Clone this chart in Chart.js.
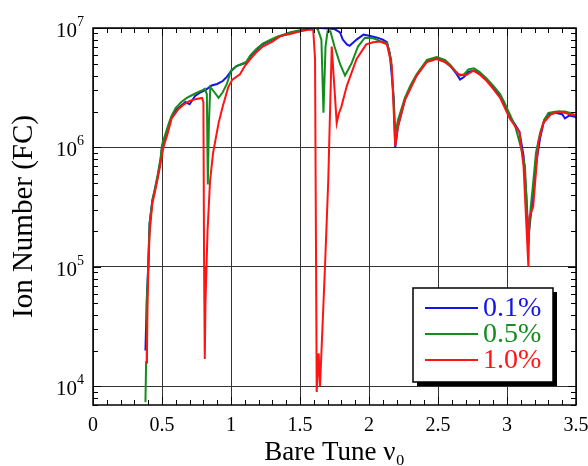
<!DOCTYPE html>
<html>
<head>
<meta charset="utf-8">
<script src="https://cdn.jsdelivr.net/npm/chart.js@4/dist/chart.umd.min.js"></script>
<style>
  html, body { margin: 0; padding: 0; background: #fff; }
</style>
</head>
<body>
<canvas id="ionChart" width="588" height="466"></canvas>
<script>
// bare tune / ion number
const tune01 = [0.38,0.39,0.40,0.41,0.43,0.45,0.47,0.49,0.50,0.53,0.55,0.57,0.60,0.64,0.67,0.70,0.74,0.78,0.82,0.86,
  0.90,0.94,0.97,1.00,1.04,1.08,1.11,1.14,1.18,1.23,1.28,1.33,1.38,1.43,1.50,1.55,1.60,1.65,1.70,1.75,
  1.79,1.81,1.84,1.86,1.91,1.96,2.00,2.06,2.10,2.13,2.15,2.165,2.18,2.19,2.21,2.26,2.30,2.345,2.42,2.49,
  2.55,2.59,2.63,2.66,2.69,2.72,2.76,2.80,2.85,2.90,2.95,2.98,3.02,3.06,3.09,3.12,3.14,3.155,3.18,3.20,
  3.215,3.24,3.27,3.30,3.35,3.40,3.42,3.45,3.50];
const ions01 = [2.0e4,5.4e4,1.0e5,2.3e5,3.6e5,4.5e5,5.8e5,7.9e5,1.0e6,1.3e6,1.55e6,1.8e6,2.05e6,2.25e6,2.4e6,2.3e6,2.7e6,2.9e6,3.05e6,3.3e6,
  3.4e6,3.6e6,3.9e6,4.35e6,4.8e6,5.0e6,5.1e6,5.8e6,6.5e6,7.3e6,7.8e6,8.3e6,8.7e6,9.1e6,9.4e6,9.8e6,1.0e7,1.0e7,9.9e6,9.8e6,
  9.2e6,8.0e6,7.3e6,7.1e6,8.0e6,8.8e6,8.6e6,8.3e6,8.0e6,7.6e6,6.2e6,4.0e6,2.5e6,1.0e6,1.5e6,2.5e6,3.2e6,4.0e6,5.3e6,5.6e6,
  5.2e6,4.8e6,4.2e6,3.7e6,3.9e6,4.3e6,4.4e6,4.2e6,3.7e6,3.2e6,2.7e6,2.3e6,1.8e6,1.55e6,1.35e6,8.5e5,4.0e5,1.8e5,3.2e5,5.4e5,
  7.9e5,1.2e6,1.7e6,1.9e6,1.95e6,1.9e6,1.75e6,1.85e6,1.8e6];

const tune05 = [0.38,0.385,0.39,0.40,0.41,0.43,0.45,0.47,0.49,0.50,0.53,0.55,0.57,0.60,0.64,0.68,0.72,0.76,0.79,0.81,
  0.825,0.832,0.84,0.85,0.88,0.91,0.94,0.97,1.00,1.04,1.08,1.11,1.14,1.18,1.23,1.28,1.33,1.38,1.43,1.50,
  1.56,1.60,1.63,1.655,1.67,1.685,1.70,1.72,1.75,1.79,1.826,1.85,1.875,1.92,1.97,2.03,2.08,2.13,2.16,2.175,
  2.19,2.21,2.26,2.30,2.345,2.42,2.49,2.55,2.59,2.63,2.66,2.69,2.72,2.76,2.80,2.85,2.90,2.95,2.98,3.02,
  3.06,3.105,3.13,3.155,3.17,3.19,3.21,3.24,3.27,3.30,3.36,3.42,3.46,3.50];
const ions05 = [7.4e3,1.6e4,5.0e4,1.0e5,2.3e5,3.6e5,4.6e5,6.0e5,8.2e5,1.05e6,1.35e6,1.6e6,1.85e6,2.15e6,2.4e6,2.6e6,2.75e6,2.9e6,3.0e6,3.1e6,
  2.8e6,4.9e5,1.6e6,3.2e6,2.9e6,2.6e6,2.9e6,3.4e6,4.4e6,4.8e6,5.0e6,5.2e6,5.9e6,6.6e6,7.4e6,7.9e6,8.4e6,8.8e6,9.2e6,9.6e6,
  1.03e7,1.04e7,9.7e6,8.0e6,1.95e6,7.0e6,9.4e6,9.4e6,7.0e6,5.0e6,4.0e6,4.5e6,5.1e6,7.0e6,8.3e6,8.2e6,7.8e6,7.5e6,5.5e6,3.0e6,
  1.3e6,1.7e6,2.6e6,3.3e6,4.1e6,5.4e6,5.7e6,5.4e6,4.9e6,4.3e6,4.0e6,4.1e6,4.5e6,4.6e6,4.3e6,3.8e6,3.3e6,2.8e6,2.4e6,1.9e6,
  1.5e6,9.6e5,7.0e5,1.6e5,3.0e5,5.1e5,9.0e5,1.33e6,1.7e6,1.95e6,2.0e6,2.0e6,1.95e6,1.85e6];

const tune10 = [0.39,0.395,0.40,0.41,0.43,0.45,0.48,0.51,0.54,0.57,0.62,0.66,0.70,0.75,0.79,0.80,0.805,0.81,0.815,0.83,
  0.848,0.87,0.884,0.91,0.94,0.98,1.01,1.065,1.10,1.14,1.18,1.23,1.30,1.36,1.43,1.50,1.55,1.585,1.596,1.609,
  1.621,1.635,1.645,1.681,1.705,1.73,1.766,1.78,1.80,1.84,1.91,1.98,2.03,2.08,2.13,2.165,2.19,2.21,2.26,2.30,
  2.345,2.42,2.49,2.55,2.59,2.647,2.70,2.756,2.80,2.853,2.90,2.95,3.02,3.06,3.09,3.12,3.155,3.162,3.19,3.227,
  3.263,3.32,3.38,3.457,3.50];
const ions10 = [1.55e4,4.5e4,8.5e4,1.9e5,3.4e5,4.3e5,6.4e5,1.0e6,1.3e6,1.75e6,2.1e6,2.3e6,2.45e6,2.55e6,2.6e6,2.4e6,1.0e5,1.7e4,5.0e4,2.0e5,
  5.2e5,9.0e5,1.1e6,1.6e6,2.2e6,3.2e6,3.7e6,4.1e6,4.8e6,5.5e6,6.2e6,7.0e6,7.7e6,8.6e6,8.9e6,9.4e6,9.6e6,9.7e6,9.6e6,5.5e6,
  9.0e3,1.9e4,1.0e4,1.0e5,5.4e5,7.0e6,1.6e6,1.9e6,2.2e6,3.3e6,5.5e6,7.3e6,7.6e6,7.7e6,7.3e6,4.8e6,1.03e6,1.5e6,2.5e6,3.1e6,
  4.0e6,5.2e6,5.5e6,5.2e6,4.8e6,4.1e6,4.0e6,4.4e6,4.1e6,3.6e6,3.1e6,2.6e6,1.75e6,1.5e6,1.35e6,6.9e5,1.0e5,2.6e5,3.2e5,1.1e6,
  1.6e6,1.9e6,2.0e6,1.9e6,1.85e6];

const seriesLabels = ["0.1%", "0.5%", "1.0%"];
const seriesColors = ["#1414e6", "#148c1e", "#ff1414"];
const xTicks = [0, 0.5, 1, 1.5, 2, 2.5, 3, 3.5];
const yTicks = [1e4, 1e5, 1e6, 1e7];

const serif = '"Liberation Serif", "Times New Roman", serif';
const toPoints = (xs, ys) => xs.map((x, i) => ({ x: x, y: ys[i] }));

// frame, inward ticks, y labels with exponents, boxed legend
const framePlugin = {
  id: "framePlugin",
  afterDraw(chart) {
    const ctx = chart.ctx;
    const a = chart.chartArea;
    const xs = chart.scales.x, ys = chart.scales.y;
    ctx.save();
    ctx.strokeStyle = "#000";
    ctx.lineWidth = 1;
    ctx.beginPath();
    for (let i = 1; i < 35; i++) {
      const px = Math.round(xs.getPixelForValue(i / 10)) + 0.5;
      const len = i % 5 === 0 ? 8 : 5;
      ctx.moveTo(px, a.bottom); ctx.lineTo(px, a.bottom - len);
      ctx.moveTo(px, a.top); ctx.lineTo(px, a.top + len);
    }
    for (let d = 3; d <= 7; d++) {
      for (let m = 1; m <= 9; m++) {
        const v = m * Math.pow(10, d);
        if (v < ys.min || v > ys.max) continue;
        const py = Math.round(ys.getPixelForValue(v)) + 0.5;
        const len = m === 1 ? 8 : 5;
        ctx.moveTo(a.left, py); ctx.lineTo(a.left + len, py);
        ctx.moveTo(a.right, py); ctx.lineTo(a.right - len, py);
      }
    }
    ctx.stroke();
    ctx.lineWidth = 1.5;
    ctx.strokeRect(a.left, a.top, a.right - a.left, a.bottom - a.top);

    // y tick labels 10^n
    ctx.fillStyle = "#000";
    ctx.textBaseline = "middle";
    yTicks.forEach(v => {
      const py = ys.getPixelForValue(v);
      const exp = String(Math.round(Math.log10(v)));
      ctx.font = "14px " + serif;
      const ew = ctx.measureText(exp).width;
      ctx.textAlign = "left";
      ctx.fillText(exp, a.left - 9 - ew, py - 6);
      ctx.font = "21px " + serif;
      ctx.textAlign = "right";
      ctx.fillText("10", a.left - 9 - ew, py + 3);
    });

    // legend box
    const bw = 140, bh = 94;
    const bx = a.right - 23 - bw, by = a.bottom - 23 - bh;
    ctx.fillStyle = "#000";
    ctx.fillRect(bx + 4, by + 4, bw, bh);
    ctx.fillStyle = "#fff";
    ctx.fillRect(bx, by, bw, bh);
    ctx.lineWidth = 1.5;
    ctx.strokeRect(bx, by, bw, bh);
    ctx.font = "28px " + serif;
    ctx.textAlign = "left";
    seriesLabels.forEach((lab, i) => {
      const ly = by + 20 + i * 26;
      ctx.strokeStyle = seriesColors[i];
      ctx.lineWidth = 2;
      ctx.beginPath();
      ctx.moveTo(bx + 12, ly); ctx.lineTo(bx + 65, ly);
      ctx.stroke();
      ctx.fillStyle = seriesColors[i];
      ctx.fillText(lab, bx + 70, ly + 1);
    });
    ctx.restore();
  }
};

const ctx = document.getElementById("ionChart").getContext("2d");
const ionChart = new Chart(ctx, {
  type: "line",
  data: {
    datasets: [
      { label: seriesLabels[0], data: toPoints(tune01, ions01), borderColor: seriesColors[0], order: 3 },
      { label: seriesLabels[1], data: toPoints(tune05, ions05), borderColor: seriesColors[1], order: 2 },
      { label: seriesLabels[2], data: toPoints(tune10, ions10), borderColor: seriesColors[2], order: 1 },
    ],
  },
  options: {
    responsive: false,
    animation: false,
    devicePixelRatio: 1,
    layout: { padding: { left: 0, right: 12, top: 28, bottom: 0 } },
    elements: {
      line: { borderWidth: 2, tension: 0, fill: false },
      point: { radius: 0 },
    },
    plugins: { legend: { display: false }, tooltip: { enabled: false } },
    scales: {
      x: {
        type: "linear",
        min: 0,
        max: 3.5,
        afterBuildTicks: (s) => { s.ticks = xTicks.map(v => ({ value: v })); },
        afterFit: (s) => { s.height = 61; s.paddingLeft = 0; s.paddingRight = 0; },
        grid: { color: "#333", lineWidth: 1, drawTicks: false },
        border: { display: false },
        ticks: {
          color: "#000",
          padding: 9,
          font: { family: serif, size: 20 },
          callback: (v) => String(v),
        },
        title: {
          display: true,
          text: "Bare Tune ν₀",
          color: "#000",
          font: { family: serif, size: 27, lineHeight: 1 },
          padding: { top: 0, bottom: 0 },
        },
      },
      y: {
        type: "logarithmic",
        min: 7000,
        max: 1e7,
        afterBuildTicks: (s) => { s.ticks = yTicks.map(v => ({ value: v })); },
        afterFit: (s) => { s.width = 93; s.paddingTop = 0; s.paddingBottom = 0; },
        grid: { color: "#333", lineWidth: 1, drawTicks: false },
        border: { display: false },
        ticks: { display: false },
        title: {
          display: true,
          text: "Ion Number (FC)",
          color: "#000",
          font: { family: serif, size: 29, lineHeight: 1.2 },
          padding: { top: 7, bottom: 0 },
        },
      },
    },
  },
  plugins: [framePlugin],
});
</script>
</body>
</html>
